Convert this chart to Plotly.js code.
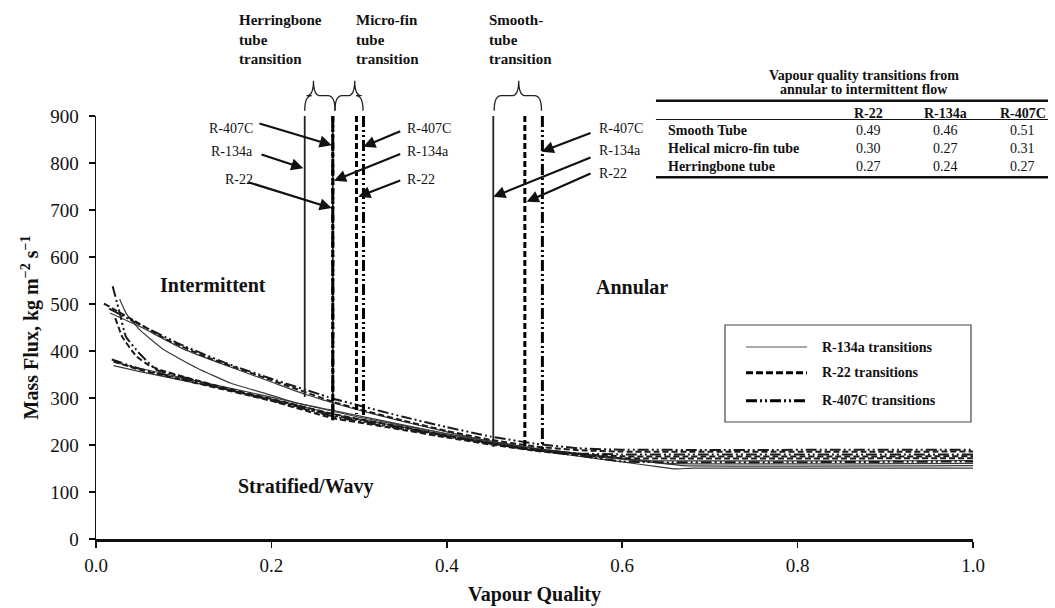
<!DOCTYPE html>
<html>
<head>
<meta charset="utf-8">
<script src="https://cdn.plot.ly/plotly-3.0.1.min.js"></script>
<style>html,body{margin:0;padding:0;background:#fff;}#chart{width:1055px;height:608px;}</style>
</head>
<body>
<div id="chart"></div>
<script>
// ---------- Table data (transition vapour qualities) ----------
const tubes = ['Smooth Tube', 'Helical micro-fin tube', 'Herringbone tube'];
const refrigerants = ['R-22', 'R-134a', 'R-407C'];
const transR22 = [0.49, 0.30, 0.27];
const transR134a = [0.46, 0.27, 0.24];
const transR407C = [0.51, 0.31, 0.27];
const tableTitle = ['Vapour quality transitions from', 'annular to intermittent flow'];

// ---------- Vertical transition lines as drawn ----------
const lineTop = 900;
const lineXR134a = [0.453, 0.27, 0.238];
const lineBotR134a = [196, 252, 302];
const lineXR22 = [0.489, 0.297, 0.27];
const lineBotR22 = [190, 266, 250];
const lineXR407C = [0.509, 0.305, 0.27];
const lineBotR407C = [188, 262, 250];

// ---------- Transition curves (mass flux vs vapour quality) ----------
const q134a_1 = [0.016,0.05,0.1,0.15,0.2,0.24,0.3,0.35,0.4,0.45,0.5,0.55,0.6,0.65,0.67,1.0];
const g134a_1 = [481,452,404,368,334,307,274,250,228,208,193,181,171,160,156,156];
const q134a_2 = [0.027,0.035,0.05,0.077,0.115,0.153,0.191,0.229,0.267,0.3,0.35,0.4,0.45,0.5,0.55,0.6,0.63,1.0];
const g134a_2 = [510,478,445,403,364,332,311,289,275,262,243,224,206,193,182,172,167,167];
const q134a_3 = [0.02,0.05,0.1,0.15,0.2,0.27,0.3,0.35,0.4,0.45,0.5,0.55,0.6,0.64,0.66,0.68,1.0];
const g134a_3 = [369,356,337,318,298,266,255,238,221,204,189,176,164,154,149,151,151];
const q134a_4 = [0.02,0.1,0.2,0.3,0.4,0.5,0.6,0.65,1.0];
const g134a_4 = [376,342,302,259,224,193,170,161,161];

const q22_1 = [0.009,0.044,0.08,0.126,0.2,0.27,0.3,0.35,0.4,0.45,0.5,0.55,0.6,1.0];
const g22_1 = [501,464,425,387,338,292,276,252,230,211,197,189,186,186];
const q22_2 = [0.022,0.03,0.046,0.06,0.073,0.1,0.15,0.2,0.27,0.3,0.35,0.4,0.45,0.5,0.55,0.6,1.0];
const g22_2 = [470,430,389,370,360,345,320,298,266,255,238,220,204,190,181,176,176];
const q22_3 = [0.02,0.05,0.1,0.15,0.2,0.27,0.3,0.35,0.4,0.45,0.5,0.55,0.6,1.0];
const g22_3 = [378,360,338,316,294,257,248,232,216,201,188,178,172,172];

const q407C_1 = [0.015,0.05,0.1,0.15,0.2,0.27,0.3,0.35,0.4,0.45,0.5,0.55,0.6,1.0];
const g407C_1 = [490,456,411,373,341,299,284,260,238,218,203,193,190,190];
const q407C_2 = [0.019,0.027,0.034,0.049,0.069,0.1,0.15,0.2,0.27,0.3,0.35,0.4,0.45,0.5,0.55,0.6,1.0];
const g407C_2 = [538,481,431,396,360,344,318,296,263,252,236,219,203,190,182,180,180];
const q407C_3 = [0.018,0.05,0.1,0.15,0.2,0.27,0.3,0.35,0.4,0.45,0.5,0.55,0.6,1.0];
const g407C_3 = [382,362,340,318,295,261,250,234,218,203,189,178,165,165];

// ---------- Axis ticks ----------
const xTicks = [0, 0.2, 0.4, 0.6, 0.8, 1.0];
const xTickText = ['0.0', '0.2', '0.4', '0.6', '0.8', '1.0'];
const yTicks = [0,100,200,300,400,500,600,700,800,900];

// ---------- Text ----------
const regionLabels = ['Intermittent', 'Annular', 'Stratified/Wavy'];
const tubeLabels = ['Herringbone<br>tube<br>transition', 'Micro-fin<br>tube<br>transition', 'Smooth-<br>tube<br>transition'];
const legendNames = ['R-134a transitions', 'R-22 transitions', 'R-407C transitions'];

// ---------- Styles ----------
const SERIF = 'Liberation Serif, Times New Roman, serif';
const styleR134a = {color: '#3a3a3a', width: 1.2, dash: 'solid'};
const styleR22 = {color: '#1a1a1a', width: 2, dash: '6px,3px'};
const styleR407C = {color: '#1a1a1a', width: 2, dash: '11px,3px,2px,3px,2px,3px'};
const legendStyles = [
  {color: '#555', width: 1.2, dash: 'solid'},
  {color: '#000', width: 3, dash: '7px,3px'},
  {color: '#000', width: 3, dash: '11px,3px,2px,3px,2px,3px'}
];

function curve(x, y, st, name) {
  return {x: x, y: y, type: 'scatter', mode: 'lines', name: name, showlegend: false, hoverinfo: 'skip',
          line: {color: st.color, width: st.width, dash: st.dash, shape: 'spline', smoothing: 0.4}};
}
function verticals(xs, bots, st, w, col, name) {
  const x = [], y = [];
  xs.forEach((v, i) => { x.push(v, v, null); y.push(lineTop, bots[i], null); });
  return {x: x, y: y, type: 'scatter', mode: 'lines', name: name, showlegend: false, hoverinfo: 'skip',
          line: {color: col, width: w, dash: st.dash}};
}

const traces = [
  curve(q134a_1, g134a_1, styleR134a, legendNames[0]),
  curve(q134a_2, g134a_2, styleR134a, legendNames[0]),
  curve(q134a_3, g134a_3, styleR134a, legendNames[0]),
  curve(q134a_4, g134a_4, styleR134a, legendNames[0]),
  curve(q22_1, g22_1, styleR22, legendNames[1]),
  curve(q22_2, g22_2, styleR22, legendNames[1]),
  curve(q22_3, g22_3, styleR22, legendNames[1]),
  curve(q407C_1, g407C_1, styleR407C, legendNames[2]),
  curve(q407C_2, g407C_2, styleR407C, legendNames[2]),
  curve(q407C_3, g407C_3, styleR407C, legendNames[2]),
  verticals(lineXR134a, lineBotR134a, styleR134a, 1.8, '#222', legendNames[0]),
  verticals(lineXR22, lineBotR22, styleR22, 3, '#000', legendNames[1]),
  verticals(lineXR407C, lineBotR407C, styleR407C, 3, '#000', legendNames[2])
];

// ---------- Annotations ----------
const annotations = [];
const f = (size, bold) => ({family: SERIF, size: size, color: '#111', weight: bold ? 'bold' : 'normal'});
function ptext(x, y, text, font, xa, ya, align) {
  annotations.push({x: x, y: y, xref: 'paper', yref: 'paper', text: text, showarrow: false,
    xanchor: xa || 'center', yanchor: ya || 'middle', align: align || 'center', font: font});
}
function dtext(x, y, text, font, xa) {
  annotations.push({x: x, y: y, xref: 'x', yref: 'y', text: text, showarrow: false,
    xanchor: xa || 'center', yanchor: 'middle', font: font});
}

// region labels
dtext(0.133, 540, regionLabels[0], f(20, true));
dtext(0.611, 537, regionLabels[1], f(20, true));
dtext(0.24, 111, regionLabels[2], f(20, true));

// tube labels above plot
ptext(0.161, 1.18, tubeLabels[0], f(15, true), 'left', 'middle', 'left');
ptext(0.294, 1.18, tubeLabels[1], f(15, true), 'left', 'middle', 'left');
ptext(0.446, 1.18, tubeLabels[2], f(15, true), 'left', 'middle', 'left');

// refrigerant labels + arrows
const labelY = [874, 824, 764];
const labelYs = [874, 826, 777];
const labNames = ['R-407C', 'R-134a', 'R-22'];
labNames.forEach((n, i) => {
  dtext(0.181, labelY[i], n, f(14, false), 'right');
  dtext(0.352, labelY[i], n, f(14, false), 'left');
  dtext(0.571, labelYs[i], n, f(14, false), 'left');
});
const arrows = [
  // [tailX, tailY, tipX, tipY]
  [0.1847, 885, 0.2688, 838], [0.187, 819, 0.2364, 789], [0.172, 760, 0.2688, 704],
  [0.3486, 868.7, 0.3048, 834.7], [0.3486, 820.6, 0.2714, 762.4], [0.3486, 763.8, 0.2991, 728.3],
  [0.5656, 865, 0.5082, 824], [0.5656, 813, 0.453, 728], [0.5656, 779, 0.4911, 717.7]
];
arrows.forEach(a => {
  annotations.push({x: a[2], y: a[3], ax: a[0], ay: a[1], xref: 'x', yref: 'y', axref: 'x', ayref: 'y',
    text: '', showarrow: true, arrowhead: 2, arrowsize: 1.1, arrowwidth: 2.2, arrowcolor: '#111'});
});

// table
const tblLeft = 0.6385, tblRight = 1.0855;
const colX = [0.8814, 0.9692, 1.057];
const rowY = [0.9669, 0.9236, 0.8801];
ptext(0.876, 1.0946, tableTitle[0], f(14, true));
ptext(0.876, 1.0631, tableTitle[1], f(14, true));
refrigerants.forEach((r, j) => ptext(colX[j], 1.0064, r, f(14, true)));
const tableVals = [transR22, transR134a, transR407C];
tubes.forEach((t, i) => {
  ptext(0.65, rowY[i], t, f(14, true), 'left');
  tableVals.forEach((col, j) => ptext(colX[j], rowY[i], col[i].toFixed(2), f(14, false)));
});

// legend (box, samples, labels)
const legRowY = [0.4539, 0.3932, 0.3269];
legendNames.forEach((n, i) => ptext(0.8255, legRowY[i], n, f(14, true), 'left'));

// ---------- Shapes ----------
const shapes = [
  {type: 'line', xref: 'paper', yref: 'paper', x0: tblLeft, x1: tblRight, y0: 1.0362, y1: 1.0362, line: {color: '#111', width: 2.5}},
  {type: 'line', xref: 'paper', yref: 'paper', x0: tblLeft, x1: tblRight, y0: 0.9917, y1: 0.9917, line: {color: '#111', width: 1}},
  {type: 'line', xref: 'paper', yref: 'paper', x0: tblLeft, x1: tblRight, y0: 0.8551, y1: 0.8551, line: {color: '#111', width: 2.5}},
  {type: 'rect', xref: 'paper', yref: 'paper', x0: 0.7172, x1: 0.9977, y0: 0.2766, y1: 0.5059,
   fillcolor: '#fff', line: {color: '#444', width: 1.2}, layer: 'above'}
];
legendStyles.forEach((st, i) => {
  shapes.push({type: 'line', xref: 'paper', yref: 'paper', x0: 0.7412, x1: 0.8107, y0: legRowY[i], y1: legRowY[i],
    line: {color: st.color, width: st.width, dash: st.dash}, layer: 'above'});
});
function brace(x0, x1, tip) {
  const yE = 1.0125, yA = 1.048, yT = 1.0835, d = 0.008;
  const p = `M${x0},${yE} Q${x0},${yA} ${x0 + d},${yA} L${tip - d},${yA} Q${tip},${yA} ${tip},${yT} ` +
            `M${tip},${yT} Q${tip},${yA} ${tip + d},${yA} L${x1 - d},${yA} Q${x1},${yA} ${x1},${yE}`;
  return {type: 'path', xref: 'paper', yref: 'paper', path: p, line: {color: '#222', width: 1.3}};
}
shapes.push(brace(0.238, 0.2725, 0.248));
shapes.push(brace(0.2725, 0.3045, 0.295));
shapes.push(brace(0.454, 0.508, 0.482));

const layout = {
  width: 1055, height: 608,
  margin: {l: 96, r: 82, t: 116, b: 69, pad: 0},
  paper_bgcolor: '#fff', plot_bgcolor: '#fff',
  font: {family: SERIF, color: '#111'},
  showlegend: false,
  xaxis: {range: [0, 1], tickvals: xTicks, ticktext: xTickText, ticks: 'outside', ticklen: 6, tickwidth: 1.5,
    tickcolor: '#111', showline: true, linewidth: 2.5, linecolor: '#111', showgrid: false, zeroline: false,
    tickfont: {family: SERIF, size: 19, color: '#111'}, ticklabelstandoff: 2,
    title: {text: 'Vapour Quality', font: {family: SERIF, size: 20, color: '#111', weight: 'bold'}, standoff: 12}},
  yaxis: {range: [0, 900], tickvals: yTicks, ticks: 'outside', ticklen: 6, tickwidth: 1.5, tickcolor: '#111',
    showline: true, linewidth: 1.5, linecolor: '#111', showgrid: false, zeroline: false,
    tickfont: {family: SERIF, size: 19, color: '#111'}, ticklabelstandoff: 6,
    title: {text: 'Mass Flux, kg m<sup>−2</sup> s<sup>−1</sup>', font: {family: SERIF, size: 20, color: '#111', weight: 'bold'}, standoff: 6}},
  annotations: annotations,
  shapes: shapes
};

Plotly.newPlot('chart', traces, layout, {displayModeBar: false, staticPlot: true});
</script>
</body>
</html>
